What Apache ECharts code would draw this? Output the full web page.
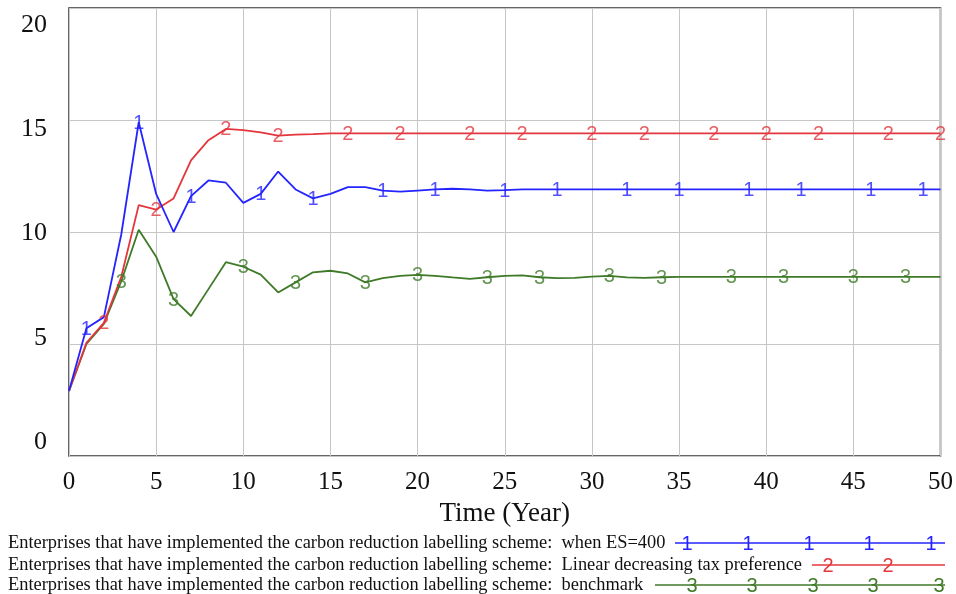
<!DOCTYPE html>
<html>
<head>
<meta charset="utf-8">
<script src="https://cdn.jsdelivr.net/npm/echarts@6/dist/echarts.min.js"></script>
<style>
  html, body { margin: 0; padding: 0; background: #fff; }
  #chart { width: 956px; height: 594px; }
</style>
</head>
<body>
<div id="chart"></div>
<script>
// time axis (years)
const years = [];
for (let t = 0; t <= 50; t++) years.push(t);

const yTicks = [0, 5, 10, 15, 20];

// when ES=400
const es400 = [
  2.9, 5.7, 6.2, 9.9, 14.9, 11.7, 10.0, 11.6, 12.3, 12.2,
  11.3, 11.7, 12.7, 11.9, 11.5, 11.7, 12.0, 12.0, 11.85, 11.8,
  11.85, 11.9, 11.93, 11.9, 11.85, 11.87, 11.9, 11.9, 11.9, 11.9,
  11.9, 11.9, 11.9, 11.9, 11.9, 11.9, 11.9, 11.9, 11.9, 11.9,
  11.9, 11.9, 11.9, 11.9, 11.9, 11.9, 11.9, 11.9, 11.9, 11.9, 11.9
];
// linear decreasing tax preference
const linearTax = [
  2.9, 5.05, 5.95, 8.0, 11.2, 11.0, 11.5, 13.2, 14.1, 14.6,
  14.55, 14.45, 14.3, 14.35, 14.37, 14.4, 14.4, 14.4, 14.4, 14.4,
  14.4, 14.4, 14.4, 14.4, 14.4, 14.4, 14.4, 14.4, 14.4, 14.4,
  14.4, 14.4, 14.4, 14.4, 14.4, 14.4, 14.4, 14.4, 14.4, 14.4,
  14.4, 14.4, 14.4, 14.4, 14.4, 14.4, 14.4, 14.4, 14.4, 14.4, 14.4
];
// benchmark
const benchmark = [
  2.9, 5.0, 5.9, 7.8, 10.1, 8.9, 7.0, 6.25, 7.45, 8.65,
  8.45, 8.1, 7.3, 7.75, 8.2, 8.27, 8.15, 7.75, 7.94, 8.04,
  8.09, 8.04, 7.97, 7.91, 7.98, 8.04, 8.06, 7.98, 7.94, 7.95,
  8.01, 8.04, 7.97, 7.95, 7.98, 8.0, 8.0, 8.0, 8.0, 8.0,
  8.0, 8.0, 8.0, 8.0, 8.0, 8.0, 8.0, 8.0, 8.0, 8.0, 8.0
];

// where the number markers sit along each line
const marks1 = [1, 4, 7, 11, 14, 18, 21, 25, 28, 32, 35, 39, 42, 46, 49];
const marks2 = [2, 5, 9, 12, 16, 19, 23, 26, 30, 33, 37, 40, 43, 47, 50];
const marks3 = [3, 6, 10, 13, 17, 20, 24, 27, 31, 34, 38, 41, 45, 48];

const names = [
  'Enterprises that have implemented the carbon reduction labelling scheme:  when ES=400',
  'Enterprises that have implemented the carbon reduction labelling scheme:  Linear decreasing tax preference',
  'Enterprises that have implemented the carbon reduction labelling scheme:  benchmark'
];

const BLUE = '#2424ff';
const RED = '#e4363c';
const GREEN = '#3f7a28';
const serif = '"Liberation Serif", "Times New Roman", serif';
const sans = '"Liberation Sans", Arial, sans-serif';

const lineSeries = (name, vals, color) => ({
  name,
  type: 'line',
  data: years.map((t, i) => [t, vals[i]]),
  showSymbol: false,
  symbol: 'none',
  lineStyle: { color, width: 1.8 },
  itemStyle: { color },
  z: 3
});

const markSeries = (vals, idx, digit, color) => ({
  type: 'scatter',
  data: idx.map(i => [years[i], vals[i]]),
  symbolSize: 2,
  itemStyle: { color: 'rgba(0,0,0,0)' },
  label: {
    show: true,
    position: 'inside',
    offset: [0, 1],
    formatter: digit,
    color,
    fontFamily: sans,
    fontSize: 20
  },
  silent: true,
  z: 4
});

// legend rows drawn as graphics: text, sample line, numbers
const legendRow = (y, text, x0, digits, digit, color) => {
  const els = [
    { type: 'text', x: 8, y,
      style: { text, font: '18.4px ' + serif, fill: '#111', verticalAlign: 'middle' } },
    { type: 'line', shape: { x1: x0, y1: y, x2: 945, y2: y },
      style: { stroke: color, lineWidth: 1.3 } }
  ];
  digits.forEach(x => els.push({
    type: 'text', x, y: y + 1, style: {
      text: digit, font: '20px ' + sans, fill: color,
      align: 'center', verticalAlign: 'middle'
    }
  }));
  return els;
};

const chart = echarts.init(document.getElementById('chart'));
chart.setOption({
  animation: false,
  backgroundColor: '#fff',
  grid: {
    left: 69, right: 15, top: 8, bottom: 138,
    show: true, borderColor: '#333', borderWidth: 1.5, backgroundColor: 'transparent'
  },
  xAxis: {
    type: 'value',
    min: 0, max: 50, interval: 5,
    name: 'Time (Year)',
    nameLocation: 'middle',
    nameGap: 44,
    nameTextStyle: { fontFamily: serif, fontSize: 27, color: '#111' },
    axisLine: { show: false },
    axisTick: { show: false },
    axisLabel: { fontFamily: serif, fontSize: 25, color: '#111', margin: 14 },
    splitLine: { lineStyle: { color: '#c6c6c6', width: 1 } }
  },
  yAxis: [
    {
      type: 'value',
      min: 0, max: 20, interval: 5,
      axisLine: { show: false },
      axisTick: { show: false },
      axisLabel: { show: false },
      splitLine: { lineStyle: { color: '#c6c6c6', width: 1 } }
    },
    {
      // label-only axis: Vensim spreads the tick labels slightly tighter than the grid
      type: 'value',
      position: 'left',
      min: -0.671, max: 20.815,
      axisLine: { show: false },
      axisTick: { show: false },
      splitLine: { show: false },
      axisLabel: {
        customValues: yTicks,
        fontFamily: serif, fontSize: 26, color: '#111', margin: 22
      }
    }
  ],
  series: [
    lineSeries(names[2], benchmark, GREEN),
    lineSeries(names[1], linearTax, RED),
    lineSeries(names[0], es400, BLUE),
    markSeries(benchmark, marks3, '3', GREEN),
    markSeries(linearTax, marks2, '2', RED),
    markSeries(es400, marks1, '1', BLUE)
  ],
  graphic: [].concat(
    legendRow(543, names[0], 675, [687, 748, 809, 869, 931], '1', BLUE),
    legendRow(565, names[1], 812, [828, 888], '2', RED),
    legendRow(585, names[2], 655, [692, 752, 813, 873, 939], '3', GREEN)
  )
});
</script>
</body>
</html>
